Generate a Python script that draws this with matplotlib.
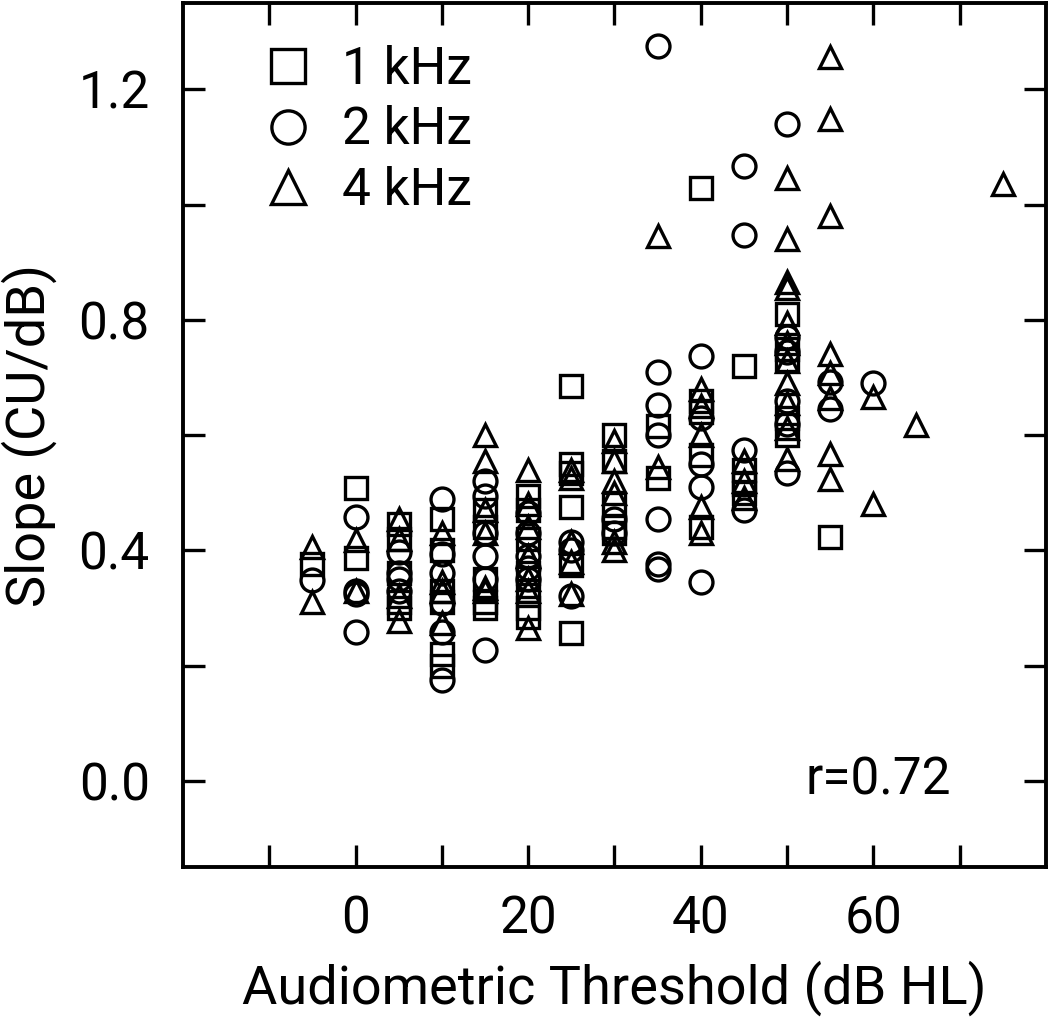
import matplotlib
matplotlib.use("Agg")
import matplotlib.pyplot as plt
from matplotlib.lines import Line2D

# threshold (dB HL) / slope (CU/dB) per frequency
x_1k = [-5, 0, 0, 5, 5, 5, 5, 5, 10, 10, 10, 10, 10, 10,
        15, 15, 15, 15, 15, 20, 20, 20, 20, 20, 20, 20,
        25, 25, 25, 25, 25, 25, 30, 30, 30, 30, 30, 35, 35,
        40, 40, 40, 40, 40, 45, 45, 45, 45, 50, 50, 50, 50, 50, 55]
y_1k = [0.377, 0.509, 0.386, 0.445, 0.42, 0.36, 0.31, 0.30, 0.455, 0.40, 0.33, 0.31, 0.22, 0.20,
        0.47, 0.44, 0.35, 0.31, 0.30, 0.495, 0.47, 0.42, 0.36, 0.33, 0.30, 0.285,
        0.685, 0.55, 0.535, 0.475, 0.375, 0.257, 0.60, 0.555, 0.48, 0.44, 0.43, 0.615, 0.525,
        1.029, 0.66, 0.64, 0.565, 0.44, 0.72, 0.54, 0.515, 0.50, 0.81, 0.75, 0.73, 0.63, 0.60, 0.424]

x_2k = [-5, 0, 0, 0, 0, 5, 5, 5, 5, 10, 10, 10, 10, 10, 10,
        15, 15, 15, 15, 15, 15, 20, 20, 20, 20, 20, 25, 25, 25, 30, 30,
        35, 35, 35, 35, 35, 35, 35, 40, 40, 40, 40, 40, 45, 45, 45, 45,
        50, 50, 50, 50, 50, 50, 55, 55, 60]
y_2k = [0.348, 0.457, 0.33, 0.325, 0.258, 0.397, 0.36, 0.35, 0.33, 0.489, 0.394, 0.36, 0.308, 0.258, 0.175,
        0.52, 0.495, 0.43, 0.39, 0.35, 0.227, 0.465, 0.43, 0.39, 0.37, 0.35, 0.415, 0.40, 0.32, 0.455, 0.43,
        1.275, 0.71, 0.652, 0.60, 0.455, 0.376, 0.368, 0.738, 0.63, 0.55, 0.51, 0.345, 1.068, 0.947, 0.575, 0.47,
        1.14, 0.77, 0.745, 0.66, 0.62, 0.535, 0.693, 0.646, 0.69]

x_4k = [-5, -5, 0, 0, 5, 5, 5, 5, 10, 10, 10, 10,
        15, 15, 15, 15, 15, 15, 20, 20, 20, 20, 20, 20, 20,
        25, 25, 25, 25, 25, 30, 30, 30, 30, 30, 30, 35, 35,
        40, 40, 40, 40, 40, 45, 45, 45,
        50, 50, 50, 50, 50, 50, 50, 50, 50, 50, 50,
        55, 55, 55, 55, 55, 55, 55, 55, 60, 60, 65, 75]
y_4k = [0.405, 0.31, 0.418, 0.33, 0.455, 0.42, 0.32, 0.278, 0.43, 0.345, 0.33, 0.273,
        0.60, 0.555, 0.47, 0.43, 0.335, 0.33, 0.54, 0.48, 0.44, 0.39, 0.35, 0.33, 0.265,
        0.54, 0.525, 0.415, 0.38, 0.325, 0.59, 0.555, 0.52, 0.50, 0.415, 0.40, 0.945, 0.545,
        0.68, 0.65, 0.60, 0.475, 0.43, 0.555, 0.52, 0.49,
        1.047, 0.94, 0.865, 0.855, 0.795, 0.76, 0.728, 0.69, 0.655, 0.613, 0.558,
        1.257, 1.148, 0.98, 0.741, 0.708, 0.665, 0.568, 0.523, 0.666, 0.48, 0.617, 1.036]

labels = ["1 kHz", "2 kHz", "4 kHz"]

plt.rcParams["font.family"] = ["Roboto", "DejaVu Sans"]
plt.rcParams["font.size"] = 37

fig = plt.figure(figsize=(10.5, 10.19), dpi=100)
ax = fig.add_axes([0.1743, 0.149, 0.8217, 0.848])

style = dict(linestyle="none", markerfacecolor="none", markeredgecolor="black",
             markeredgewidth=2.4, markersize=16.5)
ax.plot(x_1k, y_1k, marker="s", **style)
ax.plot(x_2k, y_2k, marker="o", **style)
ax.plot(x_4k, y_4k, marker="^", **style)

handles = [Line2D([], [], marker=m, **style) for m in ["s", "o", "^"]]
ax.legend(handles, labels, loc="upper left", frameon=False, markerscale=1.45,
          handlelength=0.6, handletextpad=0.75, labelspacing=0.2,
          bbox_to_anchor=(0.08, 0.975), borderaxespad=0)

ax.text(69, 0.0, "r=0.72", ha="right", va="center")

ax.set_xlim(-20, 80)
ax.set_ylim(-0.15, 1.35)
ax.set_xticks(range(-10, 80, 10))
ax.set_xticklabels(["" if v % 20 else str(v) for v in range(-10, 80, 10)])
yt = [0.0, 0.2, 0.4, 0.6, 0.8, 1.0, 1.2]
ax.set_yticks(yt)
ax.set_yticklabels(["0.0", "", "0.4", "", "0.8", "", "1.2"])
ax.tick_params(direction="in", length=16, width=2.4, top=True, right=True)
ax.tick_params(axis="y", pad=24)
ax.tick_params(axis="x", pad=20)
for s in ax.spines.values():
    s.set_linewidth(2.8)

ax.set_xlabel("Audiometric Threshold (dB HL)", fontsize=39, va="center")
ax.set_ylabel("Slope (CU/dB)", fontsize=39, va="center")
ax.xaxis.set_label_coords(0.5, -0.14)
ax.yaxis.set_label_coords(-0.178, 0.5)

fig.savefig("out.png", dpi=100)
